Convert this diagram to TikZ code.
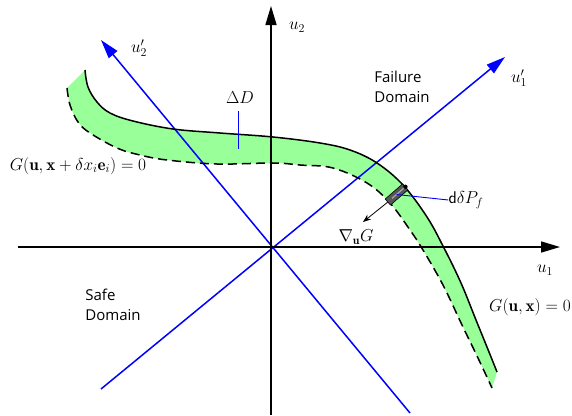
\documentclass[tikz,border=0pt]{standalone}
\usepackage{fontspec}
\newfontfamily\labelsans{Open Sans}
\usetikzlibrary{arrows.meta,calc}
\definecolor{bandgreen}{RGB}{153,255,153}
\definecolor{axisblue}{RGB}{0,0,255}
\definecolor{elemgray}{RGB}{85,85,85}
\begin{document}
\begin{tikzpicture}[x=1pt,y=-1pt,
  bigtip/.style={-{Triangle[length=19pt,width=11pt]}},
  mainaxis/.style={black, line width=1.5pt, bigtip},
  rotaxis/.style={axisblue, line width=1.5pt, bigtip},
  curve/.style={black, line width=1.5pt},
  dashcurve/.style={black, line width=1.5pt, dash pattern=on 9pt off 5pt},
  leader/.style={axisblue, line width=0.9pt},
  mlabel/.style={inner sep=0pt, font=\fontsize{17}{19}\selectfont},
  slabel/.style={inner sep=0pt, align=left, font=\labelsans\fontsize{15}{19.5}\selectfont},
]
\useasboundingbox (0,0) rectangle (572,415);

% band
\fill[bandgreen]
  plot[smooth, tension=0.6] coordinates {(85,70) (88,87) (97,102) (110,113) (133,121) (173,129) (220,133) (273,137) (320,143) (350,150) (377,163) (403,185) (427,217) (444,248) (461,283) (476,320) (489,352) (497,372)}
  -- plot[smooth, tension=0.6] coordinates {(492,388) (478,358) (462,325) (443,285) (423,250) (410,230) (390,203) (367,183) (333,168) (300,165) (273,163) (217,164) (167,160) (140,155) (117,148) (90,133) (78,122) (70,105) (67,88)}
  -- cycle;

% rotated axes
\coordinate (a1s) at (101,389);
\coordinate (a1e) at (505,57);
\coordinate (a2s) at (410,413);
\coordinate (a2e) at (101,40);
\draw[rotaxis] (a1s) -- (a1e);
\draw[rotaxis] (a2s) -- (a2e);

% main axes
\coordinate (vs) at (271,415);
\coordinate (ve) at (271,6);
\coordinate (hs) at (18,247);
\coordinate (he) at (560,247);
\draw[mainaxis] (vs) -- (ve);
\draw[mainaxis] (hs) -- (he);

% limit state curves
\draw[curve] plot[smooth, tension=0.6] coordinates {(85,70) (88,87) (97,102) (110,113) (133,121) (173,129) (220,133) (273,137) (320,143) (350,150) (377,163) (403,185) (427,217) (444,248) (461,283) (476,320) (489,352) (497,372)};
\draw[dashcurve] plot[smooth, tension=0.6] coordinates {(67,88) (70,105) (78,122) (90,133) (117,148) (140,155) (167,160) (217,164) (273,163) (300,165) (333,168) (367,183) (390,203) (410,230) (423,250) (443,285) (462,325) (478,358) (492,388)};

% element
\node[draw=black, fill=elemgray, line width=0.6pt, minimum width=23pt, minimum height=8pt, inner sep=0pt, rotate=41] (elem) at (396.5,194.5) {};
\draw[gray!70, line width=1.2pt] ($(elem.west)!0.5!(elem.center)$) -- (elem.east);
\fill[black] (elem.east) circle (2.2pt);
\coordinate (gradtip) at (363,222);
\draw[black, line width=0.8pt, -{Stealth[length=8pt,width=6pt]}] (elem.west) -- (gradtip);

% leaders
\node[mlabel] (dp) at (466,200) {\textsf{d}$\delta P_f$};
\draw[leader] (elem.center) -- (dp.west);
\node[mlabel] (dD) at (240,98) {$\Delta D$};
\coordinate (dDa) at (238,111);
\coordinate (dDb) at (238,149);
\draw[leader] (dDa) -- (dDb);

% labels
\node[mlabel] (lu2) at (297,27) {$u_2$};
\node[mlabel] (lu1) at (545,270) {$u_1$};
\node[mlabel] (lu1p) at (519,78) {$u'_1$};
\node[mlabel] (lu2p) at (139,48) {$u'_2$};
\node[slabel] (fail) at (402,87) {Failure\\Domain};
\node[slabel] (safe) at (113,305) {Safe\\Domain};
\node[mlabel] (g1) at (78,166) {$G(\mathbf{u},\mathbf{x}+\delta x_i\mathbf{e}_i)=0$};
\node[mlabel] (g0) at (530,307) {$G(\mathbf{u},\mathbf{x})=0$};
\node[mlabel] (grad) at (356,237) {$\nabla_{\mathbf{u}} G$};
\end{tikzpicture}
\end{document}
